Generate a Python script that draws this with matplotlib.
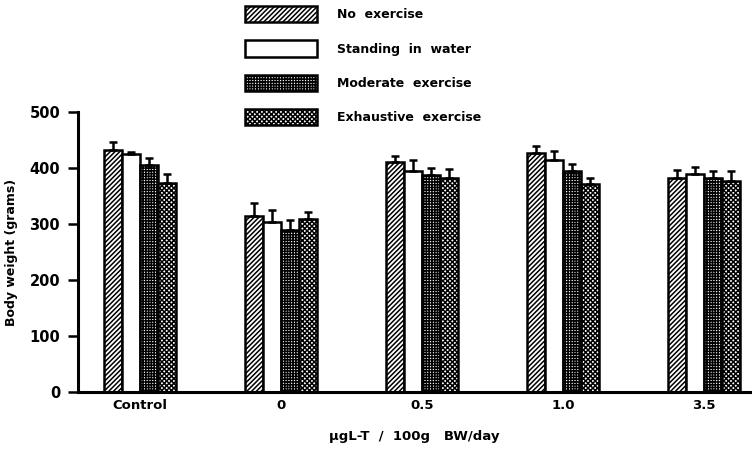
import matplotlib
matplotlib.use("Agg")
import matplotlib.pyplot as plt
import numpy as np

groups = ["Control", "0", "0.5", "1.0", "3.5"]
series = ["No  exercise", "Standing  in  water", "Moderate  exercise", "Exhaustive  exercise"]

no_exercise = [432, 315, 411, 426, 382]
standing = [425, 303, 395, 414, 389]
moderate = [406, 290, 388, 395, 382]
exhaustive = [374, 309, 382, 371, 377]

no_exercise_err = [15, 22, 10, 13, 15]
standing_err = [4, 22, 19, 16, 12]
moderate_err = [12, 17, 12, 13, 13]
exhaustive_err = [15, 13, 16, 12, 18]

values = [no_exercise, standing, moderate, exhaustive]
errors = [no_exercise_err, standing_err, moderate_err, exhaustive_err]
hatches = ["///////", "", "++++++", "xxxxxxx"]

plt.rcParams["hatch.linewidth"] = 1.1
plt.rcParams["font.family"] = "DejaVu Sans"
plt.rcParams["font.weight"] = "bold"
plt.rcParams["axes.labelweight"] = "bold"

fig = plt.figure(figsize=(7.52, 4.5), dpi=100)
ax = fig.add_axes([0.104, 0.129, 0.893, 0.622])

x = np.arange(len(groups))
w = 0.1275
handles = []
for i, (vals, errs, h, lab) in enumerate(zip(values, errors, hatches, series)):
    pos = x + (i - 1.5) * w
    b = ax.bar(pos, vals, w, color="white", edgecolor="black", linewidth=1.8,
               hatch=h, label=lab, zorder=2)
    handles.append(b)
    ax.errorbar(pos, vals, yerr=[np.zeros(len(errs)), errs], fmt="none",
                ecolor="black", elinewidth=1.8, capsize=3, capthick=1.8, zorder=3)

ax.set_xlim(-0.436, 4.324)
ax.set_ylim(0, 500)
ax.set_yticks([0, 100, 200, 300, 400, 500])
ax.set_xticks(x)
ax.set_xticklabels(groups)
ax.tick_params(axis="x", length=0, pad=5, labelsize=9.5)
ax.tick_params(axis="y", length=7, width=1.8, pad=6, labelsize=10.5)
for s in ["top", "right"]:
    ax.spines[s].set_visible(False)
for s in ["left", "bottom"]:
    ax.spines[s].set_linewidth(2.2)

ax.set_ylabel("Body weight (grams)", fontsize=9, labelpad=8)
ax.set_xlabel("\u03bcgL-T  /  100g   BW/day", fontsize=9.5, labelpad=13)

fig.legend(handles=handles, loc="upper left", bbox_to_anchor=(0.318, 1.0),
           frameon=False, fontsize=9, handlelength=5.7, handleheight=1.6,
           labelspacing=1.45, handletextpad=1.6, borderaxespad=0.1)

fig.savefig("out.png", dpi=100)
